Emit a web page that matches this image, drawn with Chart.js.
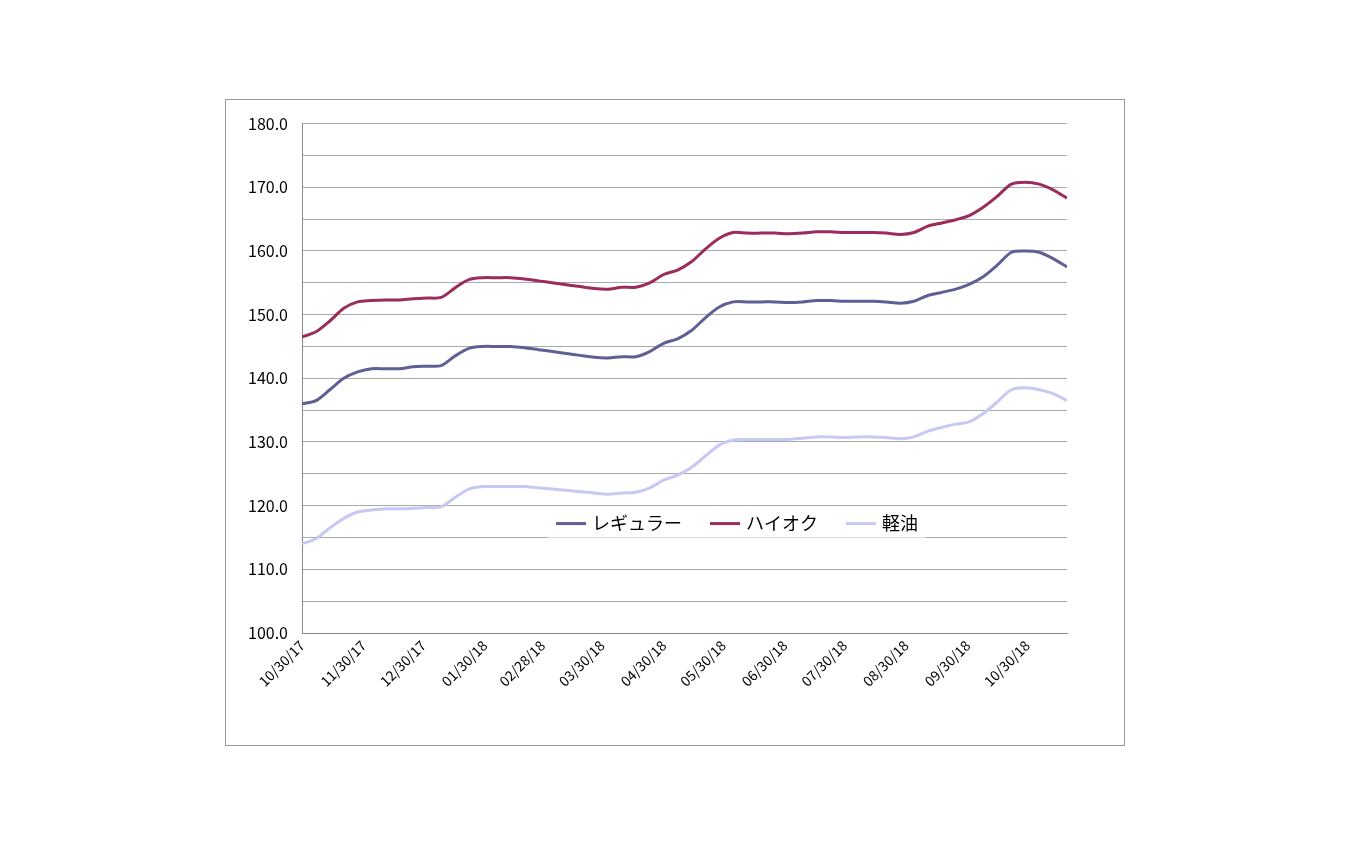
<!DOCTYPE html>
<html><head><meta charset="utf-8">
<script src="https://cdn.jsdelivr.net/npm/chart.js@4"></script>
<style>
body{margin:0;background:#fff;}
#box{position:absolute;left:225px;top:99px;width:898px;height:645px;border:1px solid #999;}
</style></head><body>
<div id="box"><canvas id="c" width="898" height="645"></canvas></div>
<script>
const tickDays=[0,31,61,92,121,151,182,212,243,273,304,335,365];
const tickLabels=["10/30/17","11/30/17","12/30/17","01/30/18","02/28/18","03/30/18","04/30/18","05/30/18","06/30/18","07/30/18","08/30/18","09/30/18","10/30/18"];
const regular=[136,136.5,138.2,140,141,141.5,141.5,141.5,141.8,141.9,142,143.5,144.7,145,145,145,144.8,144.5,144.2,143.9,143.6,143.3,143.2,143.4,143.4,144.2,145.5,146.2,147.5,149.5,151.2,152,152,152,152,151.9,152,152.2,152.2,152.1,152.1,152.1,152,151.8,152.1,153,153.5,154,154.8,156,157.8,159.8,160,159.8,158.8,157.5];
const highOctane=[146.5,147.3,149,151,152,152.2,152.3,152.3,152.5,152.6,152.7,154.2,155.5,155.8,155.8,155.8,155.6,155.3,155,154.7,154.4,154.1,154,154.3,154.3,155,156.3,157,158.3,160.3,162,162.9,162.8,162.8,162.8,162.7,162.8,163,163,162.9,162.9,162.9,162.8,162.6,162.9,163.9,164.4,164.9,165.6,166.9,168.6,170.5,170.8,170.5,169.6,168.3];
const diesel=[114,114.8,116.5,118,119,119.3,119.5,119.5,119.6,119.7,119.8,121.3,122.6,123,123,123,123,122.8,122.6,122.4,122.2,122,121.8,122,122.1,122.8,124,124.8,126,127.8,129.5,130.3,130.4,130.4,130.4,130.4,130.6,130.8,130.8,130.7,130.8,130.8,130.7,130.5,130.8,131.7,132.3,132.8,133.2,134.5,136.3,138.2,138.5,138.2,137.6,136.5];
const names=["レギュラー","ハイオク","軽油"];
const colors=["#5f5f96","#9b2d5a","#c8c8f5"];
const pts=a=>a.map((v,i)=>({x:i*7,y:v}));
const FONT='"Noto Sans CJK JP","DejaVu Sans",sans-serif';
const legendPlugin={id:'lg',afterDraw(ch){
  const c=ch.ctx;c.save();
  const y=ch.scales.y.getPixelForValue(115)-(ch.scales.y.getPixelForValue(115)-ch.scales.y.getPixelForValue(120))*0.5+2;
  c.font='18px '+FONT;c.textBaseline='middle';
  let x=330;
  const widths=names.map(n=>c.measureText(n).width);
  let total=0;widths.forEach(w=>total+=w+40+20);
  c.fillStyle='#fff';c.fillRect(x-8,y-14,total,28);
  names.forEach((n,i)=>{
    c.strokeStyle=colors[i];c.lineWidth=3;c.beginPath();c.moveTo(x,y);c.lineTo(x+30,y);c.stroke();
    c.fillStyle='#000';c.fillText(n,x+36,y);x+=36+widths[i]+28;
  });
  c.restore();
}};
new Chart(document.getElementById('c'),{
  type:'line',
  data:{datasets:[regular,highOctane,diesel].map((d,i)=>({label:names[i],data:pts(d),borderColor:colors[i],borderWidth:3,pointRadius:0,tension:0.3}))},
  options:{responsive:false,animation:false,
    layout:{padding:{top:8,right:57,left:0,bottom:0}},
    plugins:{legend:{display:false},tooltip:{enabled:false}},
    scales:{
      x:{type:'linear',min:0,max:385,
        afterBuildTicks(s){s.ticks=tickDays.map(v=>({value:v}));},
        afterFit(s){s.height=112;},
        grid:{display:false,drawTicks:false},border:{color:'#888'},
        ticks:{autoSkip:false,maxRotation:45,minRotation:45,font:{size:14,family:FONT},color:'#000',padding:4,
          callback:(v)=>{const i=tickDays.indexOf(v);return i>=0?tickLabels[i]:'';}}},
      y:{min:100,max:180,
        afterFit(s){s.width=76;},
        grid:{color:'#aaa',drawTicks:false},border:{color:'#888'},
        ticks:{stepSize:5,font:{size:16,family:FONT},color:'#000',padding:14,
          callback:v=>v%10===0?v.toFixed(1):''}}
    }},
  plugins:[legendPlugin]
});
</script></body></html>
